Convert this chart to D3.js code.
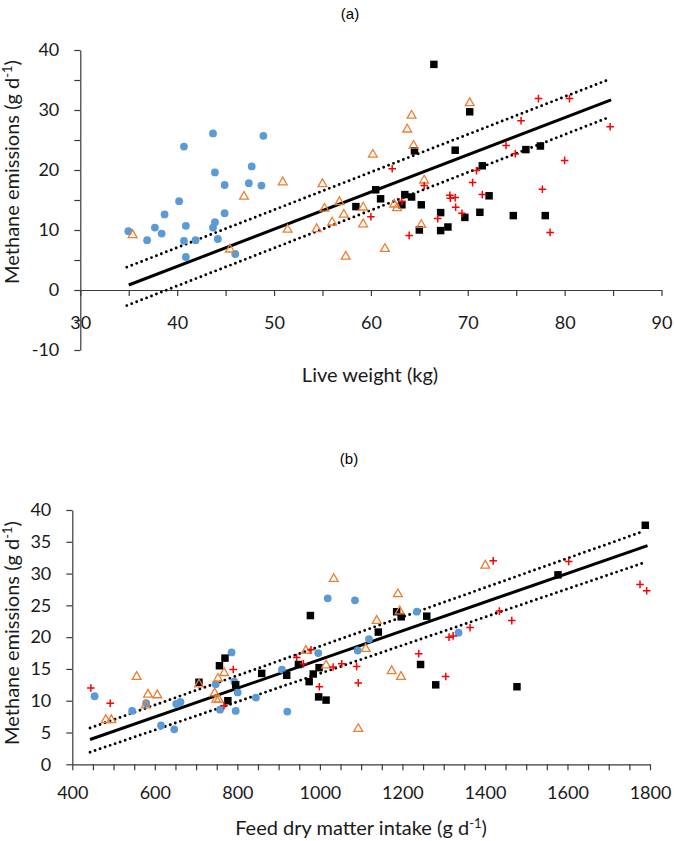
<!DOCTYPE html>
<html><head><meta charset="utf-8">
<script src="https://cdn.jsdelivr.net/npm/d3@7"></script>
<style>
html,body{margin:0;padding:0;background:#fff;}
svg{display:block;font-family:Lato,"Open Sans",sans-serif;}
</style></head>
<body>
<svg id="c" width="675" height="841"></svg>
<script>
// ---------- Panel (a): live weight (kg) vs methane (g/d) ----------
const aBlue = [[34.96,9.8],[36.9,8.3],[37.7,10.4],[38.4,9.4],[38.7,12.6],[40.2,14.8],[40.7,23.9],[40.7,8.2],[40.9,10.7],[40.9,5.5],[41.9,8.3],[43.7,26.1],[43.7,10.4],[43.9,11.3],[43.9,19.6],[44.2,8.5],[44.9,17.5],[44.9,12.8],[46.0,6.0],[47.4,17.8],[47.7,20.6],[48.7,17.4],[48.9,25.7]];
const aOrange = [[35.4,9.3],[45.45,6.9],[46.9,15.7],[50.9,18.1],[51.4,10.2],[54.4,10.3],[55.0,17.8],[55.2,13.7],[56.0,11.4],[56.75,14.8],[57.2,12.7],[57.4,5.7],[59.2,13.9],[59.2,11.1],[60.2,22.7],[61.45,7.0],[62.4,14.4],[62.7,13.8],[63.75,26.9],[64.2,29.2],[64.4,24.2],[65.5,18.4],[65.2,11.0],[70.2,31.3]];
const aBlack = [[58.45,13.9],[60.5,16.7],[61.0,15.2],[63.2,14.2],[63.5,15.9],[64.2,15.5],[64.5,23.2],[65.0,10.0],[65.2,14.2],[66.5,37.6],[67.2,12.9],[67.2,9.9],[67.95,10.5],[68.7,23.3],[69.7,12.1],[70.2,29.7],[71.25,12.95],[71.5,20.7],[72.2,15.7],[74.7,12.4],[76.0,23.4],[77.5,24.0],[78.0,12.4]];
const aRed = [[60.0,12.2],[62.2,20.2],[63.2,14.8],[63.95,9.1],[65.5,17.4],[66.9,11.9],[68.15,15.8],[68.2,15.3],[68.7,15.4],[68.75,13.8],[69.4,12.8],[70.5,17.9],[70.9,19.9],[71.5,15.9],[73.95,24.1],[74.9,22.7],[75.5,28.2],[77.3,31.9],[77.7,16.8],[78.5,9.6],[80.0,21.6],[80.5,31.9],[84.7,27.2]];
const aFit = [[35.0,0.83],[84.8,31.7]];
const aUpper = [[34.8,3.8],[84.6,35.1]];
const aLower = [[34.8,-2.6],[84.6,28.8]];
const aXTicks = [30,35,40,45,50,55,60,65,70,75,80,85,90];
const aXLabels = [30,40,50,60,70,80,90];
const aYTicks = [-10,-5,0,5,10,15,20,25,30,35,40];
const aYLabels = [-10,0,10,20,30,40];

// ---------- Panel (b): feed DM intake (g/d) vs methane (g/d) ----------
const bBlue = [[454,10.7],[545,8.4],[579,9.6],[615,6.1],[647,5.5],[652,9.5],[662,9.8],[747.5,12.6],[758,8.6],[786,17.6],[792.7,13.0],[800.8,11.3],[796,8.4],[845,10.5],[908,14.9],[921,8.3],[996,17.5],[1019,26.1],[1085,25.8],[1091.6,17.9],[1119,19.7],[1235,24.0],[1336,20.7]];
const bOrange = [[481,7.1],[494.5,7.1],[556,13.9],[578,9.4],[583.5,11.1],[606,11.0],[707,12.7],[745,11.3],[749,10.3],[755,10.3],[753,13.6],[768,14.5],[966,18.0],[1015,15.7],[1033.5,29.3],[1093,5.7],[1111,18.3],[1137.7,22.7],[1174,14.8],[1189,26.9],[1193.5,24.2],[1196.6,13.9],[1401,31.4]];
const bBlack = [[707,12.9],[756.6,15.5],[770,16.7],[777,10.0],[796,12.5],[859,14.3],[919.6,14.0],[948,15.7],[977,23.4],[974,13.0],[984,14.2],[998,15.2],[997,10.6],[1015,10.1],[1141.6,20.8],[1186,24.0],[1197,23.2],[1244,15.7],[1259,23.3],[1280.7,12.5],[1477.6,12.2],[1577,29.8],[1788.6,37.6]];
const bRed = [[445,12.0],[492,9.6],[767.6,9.2],[790,14.9],[943.8,16.8],[960,15.8],[978.5,18.0],[998.7,12.2],[1032,15.3],[1053,15.8],[1089,15.4],[1093,12.8],[1239.5,17.4],[1305,13.8],[1313,20.0],[1323,20.2],[1364,21.5],[1420,32.0],[1435,24.1],[1465,22.6],[1603,31.9],[1775.8,28.3],[1792,27.3]];
const bFit = [[443,3.9],[1794,34.4]];
const bUpper = [[443,5.7],[1782,36.6]];
const bLower = [[443,1.9],[1785,31.7]];
const bXTicks = d3.range(400,1801,50);
const bXLabels = [400,600,800,1000,1200,1400,1600,1800];
const bYTicks = [0,5,10,15,20,25,30,35,40];

const svg = d3.select("#c");
const AXC = "#3a3a3a";
const BLUE = "#5B9BD5", ORANGE = "#ED7D31", RED = "#FF0000";

function styleAxis(g){
  g.selectAll("path.domain").attr("stroke",AXC).attr("stroke-width",1.2);
  g.selectAll(".tick line").attr("stroke",AXC).attr("stroke-width",1.2);
  g.selectAll(".tick text").attr("fill","#1a1a1a").style("font-size","18px").style("font-family","Lato, 'Open Sans', sans-serif");
}

function yTitle(g, x, yc){
  const t = g.append("text").attr("transform",`translate(${x},${yc}) rotate(-90)`)
    .attr("text-anchor","middle").style("font-size","20px").attr("fill","#1a1a1a");
  t.append("tspan").text("Methane emissions (g d");
  t.append("tspan").attr("dy","-7").style("font-size","13px").text("-1");
  t.append("tspan").attr("dy","7").text(")");
}

function drawPanel(cfg){
  const g = svg.append("g");
  const {x,y} = cfg;
  const line = d3.line().x(d=>x(d[0])).y(d=>y(d[1]));
  g.append("path").datum(cfg.upper).attr("d",line).attr("fill","none").attr("stroke","#000")
    .attr("stroke-width",2.9).attr("stroke-linecap","round").attr("stroke-dasharray","0 5.3");
  g.append("path").datum(cfg.lower).attr("d",line).attr("fill","none").attr("stroke","#000")
    .attr("stroke-width",2.9).attr("stroke-linecap","round").attr("stroke-dasharray","0 5.3");
  g.append("path").datum(cfg.fit).attr("d",line).attr("fill","none").attr("stroke","#000").attr("stroke-width",3);

  g.append("g").selectAll("circle").data(cfg.blue).join("circle")
    .attr("cx",d=>x(d[0])).attr("cy",d=>y(d[1])).attr("r",3.9).attr("fill",BLUE);
  g.append("g").selectAll("path").data(cfg.black).join("path")
    .attr("transform",d=>`translate(${x(d[0])},${y(d[1])})`)
    .attr("d",d3.symbol(d3.symbolSquare,56)).attr("fill","#000");
  g.append("g").selectAll("path").data(cfg.orange).join("path")
    .attr("transform",d=>`translate(${x(d[0])},${y(d[1])})`)
    .attr("d","M0,-4.3L4.4,3.4L-4.4,3.4Z").attr("fill","none").attr("stroke",ORANGE).attr("stroke-width",1.3);
  g.append("g").selectAll("path").data(cfg.red).join("path")
    .attr("transform",d=>`translate(${x(d[0])},${y(d[1])})`)
    .attr("d","M-3.8,0H3.8M0,-3.8V3.8").attr("fill","none").attr("stroke",RED).attr("stroke-width",1.5);
  return g;
}

// ---- Panel (a)
const xA = d3.scaleLinear([30,90],[80.3,661.5]);
const yA = d3.scaleLinear([-10,40],[350,50]);
const gAx = svg.append("g").attr("transform",`translate(0,${yA(0)})`)
  .call(d3.axisBottom(xA).tickValues(aXTicks).tickSize(6).tickSizeOuter(0).tickPadding(20)
    .tickFormat(d=>aXLabels.includes(d)?d:""));
styleAxis(gAx);
const gAy = svg.append("g").attr("transform",`translate(${xA(30)},0)`)
  .call(d3.axisLeft(yA).tickValues(aYTicks).tickSize(6).tickSizeOuter(0).tickPadding(15)
    .tickFormat(d=>aYLabels.includes(d)?d:""));
styleAxis(gAy);
drawPanel({x:xA,y:yA,blue:aBlue,orange:aOrange,black:aBlack,red:aRed,fit:aFit,upper:aUpper,lower:aLower});
svg.append("text").attr("x",370).attr("y",382).attr("text-anchor","middle").style("font-size","20px").attr("fill","#1a1a1a").text("Live weight (kg)");
yTitle(svg,19,172);
svg.append("text").attr("x",350).attr("y",19).attr("text-anchor","middle")
  .style("font-family","'Liberation Sans', Arial, sans-serif").style("font-size","15px").text("(a)");

// ---- Panel (b)
const xB = d3.scaleLinear([400,1800],[72.3,650]);
const yB = d3.scaleLinear([0,40],[764.3,510]);
const gBx = svg.append("g").attr("transform",`translate(0,${yB(0)})`)
  .call(d3.axisBottom(xB).tickValues(bXTicks).tickSize(6).tickSizeOuter(0).tickPadding(16)
    .tickFormat(d=>bXLabels.includes(d)?d:""));
styleAxis(gBx);
const gBy = svg.append("g").attr("transform",`translate(${xB(400)},0)`)
  .call(d3.axisLeft(yB).tickValues(bYTicks).tickSize(6).tickSizeOuter(0).tickPadding(15));
styleAxis(gBy);
drawPanel({x:xB,y:yB,blue:bBlue,orange:bOrange,black:bBlack,red:bRed,fit:bFit,upper:bUpper,lower:bLower});
const xt = svg.append("text").attr("x",361).attr("y",835).attr("text-anchor","middle").style("font-size","20px").attr("fill","#1a1a1a");
xt.append("tspan").text("Feed dry matter intake (g d");
xt.append("tspan").attr("dy","-7").style("font-size","13px").text("-1");
xt.append("tspan").attr("dy","7").text(")");
yTitle(svg,19,633);
svg.append("text").attr("x",349).attr("y",464).attr("text-anchor","middle")
  .style("font-family","'Liberation Sans', Arial, sans-serif").style("font-size","15px").text("(b)");
</script>
</body></html>
